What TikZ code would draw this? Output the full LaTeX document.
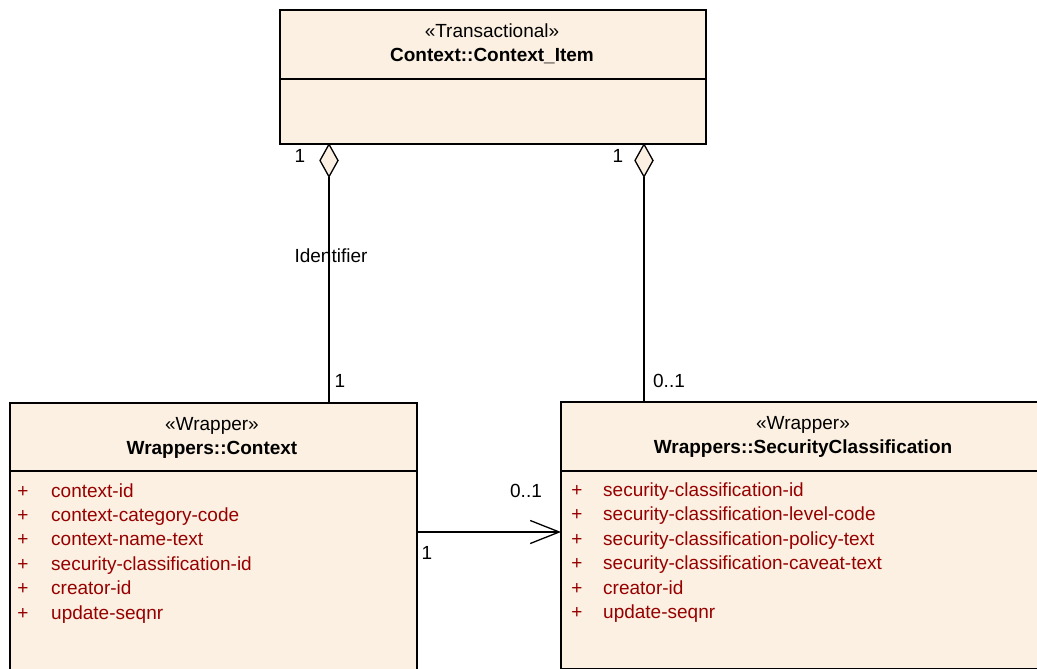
\documentclass[tikz,border=0pt]{standalone}
\usepackage{fontspec}
\setmainfont{Liberation Sans}
\usetikzlibrary{arrows.meta}

\definecolor{classfill}{RGB}{251,240,225}
\definecolor{attrred}{RGB}{150,0,0}

\begin{document}
\begin{tikzpicture}[x=1pt, y=-1pt,
    classbox/.style={draw, line width=1.6pt, fill=classfill, inner sep=0pt, anchor=north west},
    txt/.style={inner sep=0pt, anchor=base, font=\fontsize{19}{22}\selectfont},
    bold/.style={txt, font=\fontsize{19}{22}\selectfont\bfseries},
    attr/.style={txt, anchor=base west, text=attrred},
    plus/.style={txt, text=attrred},
    aggr/.style={line width=1.3pt, -{Diamond[length=35pt, width=19.5pt, fill=classfill]}},
    nav/.style={line width=1.3pt, -{Straight Barb[length=29pt, width=23pt]}}]

\useasboundingbox (0,0) rectangle (1037,669);

% ==== CLASS BOXES ====
\node[classbox, minimum width=426pt, minimum height=134pt] (item) at (279,9) {};
\node[classbox, minimum width=407pt, minimum height=300pt] (ctx) at (9,402) {};
% cut off by the right margin: no right side
\node[classbox, draw=none, minimum width=600pt, minimum height=265pt] (sec) at (561,402) {};
\draw[line width=1.6pt] (sec.north east) -- (sec.north west) -- (sec.south west) -- (sec.south east);

% compartment lines
\coordinate (itemdiv) at (0,79);
\coordinate (boxdiv) at (0,471);
\draw[line width=1.6pt] (item.west |- itemdiv) -- (item.east |- itemdiv);
\draw[line width=1.6pt] (ctx.west |- boxdiv) -- (ctx.east |- boxdiv);
\draw[line width=1.6pt] (sec.west |- boxdiv) -- (sec.east |- boxdiv);

% ==== HEADERS ====
\node[txt]  (itemst) at (492,38)  {«Transactional»};
\node[bold] (itemnm) at (492,62)  {Context::Context\_Item};
\node[txt]  (ctxst)  at (212,430) {«Wrapper»};
\node[bold] (ctxnm)  at (212,454) {Wrappers::Context};
\node[txt]  (secst)  at (803,429) {«Wrapper»};
\node[bold] (secnm)  at (803,453) {Wrappers::SecurityClassification};

% ==== ATTRIBUTES ====
\foreach \a [count=\i from 0] in {context-id, context-category-code, context-name-text,
    security-classification-id, creator-id, update-seqnr}{
    \node[plus] (ctxp\i) at (23,497+24.4*\i) {+};
    \node[attr] (ctxa\i) at (51,497+24.4*\i) {\a};
}
\foreach \a [count=\i from 0] in {security-classification-id, security-classification-level-code,
    security-classification-policy-text, security-classification-caveat-text, creator-id, update-seqnr}{
    \node[plus] (secp\i) at (577,496+24.5*\i) {+};
    \node[attr] (seca\i) at (603,496+24.5*\i) {\a};
}

% ==== CONNECTORS ====
\coordinate (aggL) at (329,143);
\coordinate (aggR) at (644,143);
\coordinate (navY) at (0,532);
\draw[aggr] (ctx.north -| aggL) -- (aggL);
\draw[aggr] (sec.north -| aggR) -- (aggR);
\draw[nav] (ctx.east |- navY) -- (sec.west |- navY);

% multiplicities and role
\node[txt] (mA) at (300,162) {1};
\node[txt] (mB) at (618,162) {1};
\node[txt] (role) at (331,262) {Identifier};
\node[txt] (mC) at (340,387) {1};
\node[txt] (mD) at (669,387) {0..1};
\node[txt] (mE) at (526,497) {0..1};
\node[txt] (mF) at (427,559) {1};

\end{tikzpicture}
\end{document}
